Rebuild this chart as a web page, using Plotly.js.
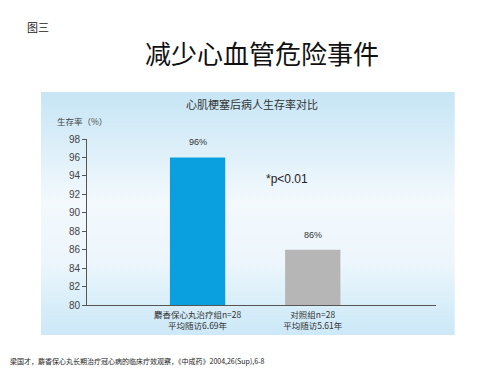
<!DOCTYPE html>
<html>
<head>
<meta charset="utf-8">
<script src="https://cdn.plot.ly/plotly-3.0.1.min.js"></script>
<style>html,body{margin:0;padding:0;background:#fff;}#chart{width:500px;height:375px;}</style>
</head>
<body>
<div id="chart"></div>
<script>
// ---- data ----
const categories = ['麝香保心丸治疗组n=28<br>平均随访6.69年', '对照组n=28<br>平均随访5.61年'];
const survival = [96, 86];
const barLabels = ['96%', '86%'];
const yTicks = [80, 82, 84, 86, 88, 90, 92, 94, 96, 98];
const barColors = ['#0aa0e0', '#b6b6b6'];

const FONT = 'Liberation Sans, Arial, Noto Sans CJK SC, sans-serif';
const CJK = 'Noto Sans CJK SC, Liberation Sans, sans-serif';

const xIdx = categories.map((c, i) => i);

const gradSvg = '<svg xmlns="http://www.w3.org/2000/svg" width="100" height="100" preserveAspectRatio="none">' +
  '<defs><linearGradient id="g" x1="0" y1="0" x2="0" y2="1">' +
  '<stop offset="0" stop-color="#c6e5f5"/>' +
  '<stop offset="0.45" stop-color="#f3f9fd"/>' +
  '<stop offset="0.7" stop-color="#edf6fc"/>' +
  '<stop offset="0.86" stop-color="#d9eff9"/>' +
  '<stop offset="1" stop-color="#cde8f8"/>' +
  '</linearGradient></defs><rect width="100" height="100" fill="url(#g)"/></svg>';
const gradUri = 'data:image/svg+xml;charset=utf-8,' + encodeURIComponent(gradSvg);

const trace = {
  type: 'bar',
  x: xIdx,
  y: survival,
  width: 0.48,
  marker: {color: barColors, line: {width: 0}},
  hoverinfo: 'none'
};

const annotations = [];
survival.forEach((v, i) => {
  annotations.push({
    x: xIdx[i], y: v, xref: 'x', yref: 'y', text: barLabels[i],
    showarrow: false, yanchor: 'bottom', yshift: 8,
    font: {family: FONT, size: 9, color: '#333'}
  });
});
annotations.push(
  {x: -0.178, y: 1.675, xref: 'paper', yref: 'paper', text: '图三', showarrow: false,
   xanchor: 'left', yanchor: 'middle', font: {family: CJK, size: 11, color: '#222'}},
  {x: 0.474, y: 1.211, xref: 'paper', yref: 'paper', text: '心肌梗塞后病人生存率对比', showarrow: false,
   xanchor: 'center', yanchor: 'middle', font: {family: CJK, size: 11, color: '#333'}},
  {x: -0.092, y: 1.108, xref: 'paper', yref: 'paper', text: '生存率（%）', showarrow: false,
   xanchor: 'left', yanchor: 'middle', font: {family: CJK, size: 8.5, color: '#444'}},
  {x: 0.507, y: 0.759, xref: 'paper', yref: 'paper', text: '*p<0.01', showarrow: false,
   xanchor: 'left', yanchor: 'middle', font: {family: FONT, size: 12, color: '#222'}},
  {x: -0.226, y: -0.34, xref: 'paper', yref: 'paper',
   text: '梁国才，麝香保心丸长期治疗冠心病的临床疗效观察，《中成药》2004,26(Sup),6-8', showarrow: false,
   xanchor: 'left', yanchor: 'middle', font: {family: CJK, size: 7, color: '#222'}}
);

const layout = {
  width: 500, height: 375,
  margin: {l: 87, r: 64, t: 139, b: 70, pad: 0},
  paper_bgcolor: '#ffffff',
  plot_bgcolor: 'rgba(0,0,0,0)',
  showlegend: false,
  font: {family: FONT, color: '#333'},
  title: {
    text: '减少心血管危险事件',
    font: {family: CJK, size: 26, color: '#111'},
    xref: 'container', yref: 'container', x: 0.524, y: 0.853,
    xanchor: 'center', yanchor: 'middle'
  },
  xaxis: {
    range: [-0.96, 2.07],
    tickvals: xIdx, ticktext: categories,
    showline: true, linecolor: '#555', linewidth: 1,
    ticks: 'outside', ticklen: 2, tickcolor: 'rgba(0,0,0,0)',
    showgrid: false, zeroline: false, fixedrange: true,
    tickfont: {family: CJK, size: 8.5, color: '#333'}
  },
  yaxis: {
    range: [80, 98],
    tickvals: yTicks, ticktext: yTicks.map(String),
    showline: true, linecolor: '#555', linewidth: 1,
    ticks: 'outside', ticklen: 4, tickcolor: '#555', tickwidth: 1,
    showgrid: false, zeroline: false, fixedrange: true,
    tickfont: {family: FONT, size: 10, color: '#444'}
  },
  images: [{
    source: gradUri, xref: 'paper', yref: 'paper',
    x: -0.132, y: 1.283, sizex: 1.186, sizey: 1.464,
    xanchor: 'left', yanchor: 'top', sizing: 'stretch', layer: 'below'
  }],
  annotations: annotations
};

Plotly.newPlot('chart', [trace], layout, {staticPlot: true, displayModeBar: false});
</script>
</body>
</html>
